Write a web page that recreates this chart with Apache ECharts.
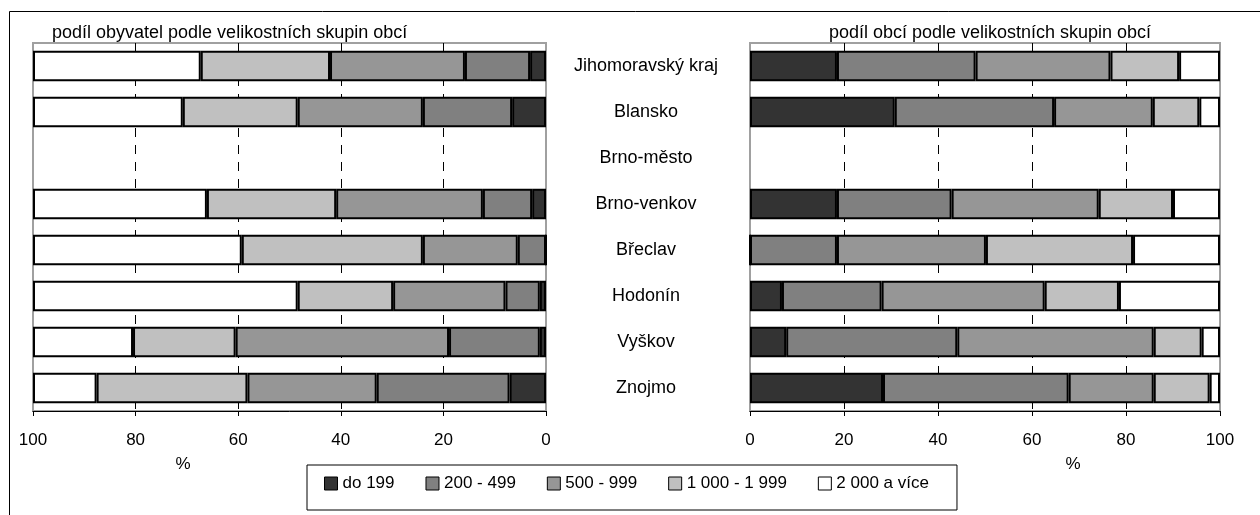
<!DOCTYPE html>
<html>
<head>
<meta charset="utf-8">
<script src="https://cdn.jsdelivr.net/npm/echarts@6/dist/echarts.min.js"></script>
<style>
html,body{margin:0;padding:0;background:#fff;}
#chart{width:1260px;height:515px;}
</style>
</head>
<body>
<div id="chart"></div>
<script>
const categories = ["Jihomoravský kraj","Blansko","Brno-město","Brno-venkov","Břeclav","Hodonín","Vyškov","Znojmo"];
const groupNames = ["do 199","200 - 499","500 - 999","1 000 - 1 999","2 000 a více"];
const groupColors = ["#333333","#808080","#969696","#c0c0c0","#ffffff"];
const xTicks = [0,20,40,60,80,100];

// podíl obyvatel (left chart), % by size group
const popDo199   = [3.1, 6.6, null, 2.7, 0,    1.2, 1.2, 7.1];
const pop200_499 = [12.7,17.4,null, 9.6, 5.5,  6.7, 17.7,25.9];
const pop500_999 = [26.3,24.4,null, 28.6,18.5, 21.9,41.6,25.2];
const pop1000_1999=[25.2,22.4,null, 25.2,35.3, 18.6,20.0,29.4];
const pop2000plus= [32.7,29.2,null, 33.9,40.7, 51.6,19.5,12.4];

// podíl obcí (right chart), % by size group
const munDo199   = [18.5,30.8,null, 18.5,0,    6.8, 7.7, 28.3];
const mun200_499 = [29.5,33.9,null, 24.4,18.5, 21.2,36.4,39.5];
const mun500_999 = [28.7,21.0,null, 31.3,31.7, 34.7,41.8,18.1];
const mun1000_1999=[14.6,9.9, null, 15.8,31.3, 15.8,10.2,11.9];
const mun2000plus= [8.7, 4.4, null, 10.0,18.5, 21.5,3.9, 2.2];

const popSeries = [popDo199,pop200_499,pop500_999,pop1000_1999,pop2000plus];
const munSeries = [munDo199,mun200_499,mun500_999,mun1000_1999,mun2000plus];

const FONT = "'Liberation Sans', Arial, sans-serif";

function xAxisFor(gridIndex, inverse){
  return {
    type:'value', gridIndex, min:xTicks[0], max:xTicks[xTicks.length-1], interval:xTicks[1]-xTicks[0], inverse,
    position:'bottom',
    axisLine:{show:true, lineStyle:{color:'#000', width:1}},
    axisTick:{show:true, length:5, lineStyle:{color:'#000'}},
    axisLabel:{color:'#000', fontSize:17, fontFamily:FONT, margin:21, formatter: v => String(v)},
    splitLine:{show:true, showMinLine:false, showMaxLine:false, lineStyle:{color:'#000', width:1, type:[9,8]}}
  };
}

const series = [];
groupNames.forEach((name,i)=>{
  const style = {color:groupColors[i], borderColor:'#000', borderWidth:2};
  series.push({type:'bar', name, stack:'pop', xAxisIndex:0, yAxisIndex:0,
    data:popSeries[i], barCategoryGap:'34%', itemStyle:style, emphasis:{disabled:true}});
  series.push({type:'bar', name, stack:'mun', xAxisIndex:1, yAxisIndex:1,
    data:munSeries[i], barCategoryGap:'34%', itemStyle:style, emphasis:{disabled:true}});
});

const chart = echarts.init(document.getElementById('chart'), null, {renderer:'canvas'});
chart.setOption({
  animation:false,
  backgroundColor:'#fff',
  textStyle:{fontFamily:FONT},
  title:[
    {text:'podíl obyvatel podle velikostních skupin obcí', left:47, top:19,
     textStyle:{fontSize:18, fontWeight:'normal', color:'#000', fontFamily:FONT}},
    {text:'podíl obcí podle velikostních skupin obcí', left:985, top:19, textAlign:'center',
     textStyle:{fontSize:18, fontWeight:'normal', color:'#000', fontFamily:FONT}}
  ],
  grid:[
    {left:33, right:714, top:43, bottom:104, show:true, borderColor:'#a0a0a0', borderWidth:2, backgroundColor:'#fff'},
    {left:750, right:40, top:43, bottom:104, show:true, borderColor:'#a0a0a0', borderWidth:2, backgroundColor:'#fff'}
  ],
  xAxis:[xAxisFor(0,true), xAxisFor(1,false)],
  yAxis:[
    {type:'category', gridIndex:0, data:categories, inverse:true, position:'right',
     axisLine:{show:false}, axisTick:{show:false}, splitLine:{show:false},
     axisLabel:{color:'#000', fontSize:18, fontFamily:FONT, align:'center', margin:100}},
    {type:'category', gridIndex:1, data:categories, inverse:true,
     axisLine:{show:false}, axisTick:{show:false}, splitLine:{show:false}, axisLabel:{show:false}}
  ],
  legend:{
    data:groupNames, left:307, top:465, orient:'horizontal',
    backgroundColor:'#fff', borderColor:'#000', borderWidth:1,
    padding:[10,28,18,17], itemGap:31, itemWidth:13, itemHeight:13, icon:'rect',
    itemStyle:{borderColor:'#000', borderWidth:1},
    textStyle:{color:'#000', fontSize:17, fontFamily:FONT},
    selectedMode:false
  },
  graphic:[
    {type:'rect', silent:true, z:-1, shape:{x:9.5, y:11.5, width:1300, height:600},
     style:{fill:null, stroke:'#000', lineWidth:1}},
    {type:'text', x:183, y:464, style:{text:'%', fontSize:17, fontFamily:FONT, fill:'#000', align:'center', verticalAlign:'middle'}},
    {type:'text', x:1073, y:464, style:{text:'%', fontSize:17, fontFamily:FONT, fill:'#000', align:'center', verticalAlign:'middle'}}
  ],
  series
});
</script>
</body>
</html>
